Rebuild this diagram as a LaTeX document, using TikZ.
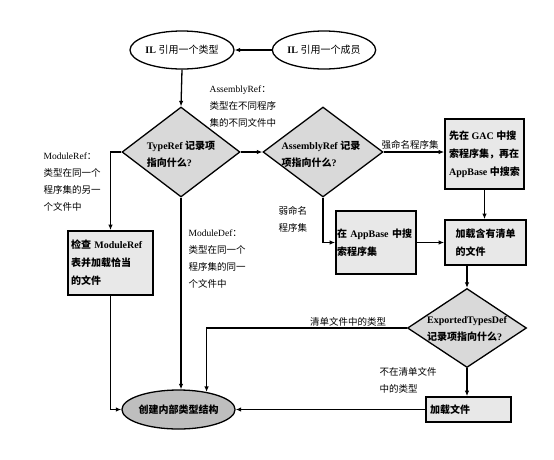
\documentclass[tikz,border=0pt]{standalone}
\usepackage{fontspec}
\setmainfont{Liberation Serif}
\newfontfamily\cjk{Noto Sans CJK SC}
\usetikzlibrary{shapes.geometric,arrows.meta}
\definecolor{boxgray}{HTML}{E8E8E8}
\definecolor{diagray}{HTML}{D9D9D9}
\definecolor{fingray}{HTML}{BEBEBE}
\begin{document}
\begin{tikzpicture}[x=1pt,y=-1pt,
  font=\fontsize{10}{17}\selectfont,
  line width=1.3pt,
  >={Latex[length=5.5pt,width=4.5pt]},
  boxnode/.style={draw, line width=1.7pt, fill=boxgray, rectangle, inner sep=2pt,
    align=left, font=\fontsize{10}{18}\selectfont\bfseries},
  diam/.style={draw, diamond, line width=1.3pt, fill=diagray, inner sep=0pt},
  ell/.style={draw, ellipse, line width=1.3pt, inner sep=0pt},
  lbl/.style={inner sep=0pt, align=left, anchor=west, font=\fontsize{9.5}{17}\selectfont},
  dtext/.style={inner sep=0pt, align=left, font=\fontsize{10}{17}\selectfont\bfseries}
]
\useasboundingbox (0,0) rectangle (554,459);
\fill[white] (0,0) rectangle (554,459);

% ellipses
\node[ell, minimum width=104pt, minimum height=38pt] (il1) at (182,50) {\textbf{IL} {\cjk 引用一个类型}};
\node[ell, minimum width=103pt, minimum height=38pt] (il2) at (324,50) {\textbf{IL} {\cjk 引用一个成员}};
\node[ell, fill=fingray, minimum width=101pt, minimum height=39pt, font=\fontsize{10}{17}\selectfont\bfseries] (fin) at (178.5,409.5) {{\cjk 创建内部类型结构}};

% diamonds
\node[diam, minimum width=118pt, minimum height=90pt] (tr) at (181,152) {};
\node[dtext] (trt) at (181,154.5) {TypeRef {\cjk 记录项}\\{\cjk 指向什么}?};
\node[diam, minimum width=120pt, minimum height=90pt] (ar) at (323,152) {};
\node[dtext] (art) at (321,154.5) {AssemblyRef {\cjk 记录}\\{\cjk 项指向什么}?};
\node[diam, minimum width=119pt, minimum height=79pt] (etd) at (467,328) {};
\node[dtext] (etdt) at (467,329) {ExportedTypesDef\\{\cjk 记录项指向什么}?};

% boxes
\node[boxnode, minimum width=79pt, minimum height=70pt] (gac) at (484.5,154)
  {{\cjk 先在} GAC {\cjk 中搜}\\{\cjk 索程序集，再在}\\AppBase {\cjk 中搜索}};
\node[boxnode, minimum width=81pt, minimum height=45pt] (load) at (485.5,242.5)
  {{\cjk 加载含有清单}\\{\cjk 的文件}};
\node[boxnode, minimum width=80pt, minimum height=63pt, inner sep=1pt, text width=78pt] (app) at (376,242.5)
  {{\cjk 在} AppBase {\cjk 中搜}\\{\cjk 索程序集}};
\node[boxnode, minimum width=85pt, minimum height=64pt, text width=79pt] (mr) at (110.5,263)
  {{\cjk 检查} ModuleRef\\{\cjk 表并加载恰当}\\{\cjk 的文件}};
\node[boxnode, minimum width=85pt, minimum height=25pt, text width=77pt] (lf) at (468.5,409.5)
  {{\cjk 加载文件}};

% labels
\node[lbl] (lasm) at (209,106.5) {AssemblyRef{\cjk ：}\\{\cjk 类型在不同程序}\\{\cjk 集的不同文件中}};
\node[lbl] (lmr) at (43,182.5) {ModuleRef{\cjk ：}\\{\cjk 类型在同一个}\\{\cjk 程序集的另一}\\{\cjk 个文件中}};
\node[lbl] (lmd) at (188,259) {ModuleDef{\cjk ：}\\{\cjk 类型在同一个}\\{\cjk 程序集的同一}\\{\cjk 个文件中}};
\node[lbl, anchor=center] (lstrong) at (410,145) {{\cjk 强命名程序集}};
\node[lbl] (lweak) at (278,219.5) {{\cjk 弱命名}\\{\cjk 程序集}};
\node[lbl, anchor=center] (lman) at (348,322) {{\cjk 清单文件中的类型}};
\node[lbl] (lnot) at (379,380.5) {{\cjk 不在清单文件}\\{\cjk 中的类型}};

% connectors
\draw[->] (il2.west) -- (il1.east);
\draw[->] (il1.south) -- (tr.north);
\draw[->] (tr.east) -- (ar.west);
\draw[->] (ar.east) -- (ar.east -| gac.west);
\draw[->] (gac.south) -- (gac.south |- load.north);
\draw[->] (ar.south) |- (app.west);
\draw[->] (app.east) -- (app.east -| load.west);
\draw[->] (etd.north |- load.south) -- (etd.north);
\draw[->] (etd.west) -| (fin.32);
\draw[->] (etd.south) -- (etd.south |- lf.north);
\draw[->] (lf.west) -- (fin.east);
\draw[->] (tr.south) -- (tr.south |- fin.north);
\draw[->] (tr.west) -| (mr.north);
\draw[->] (mr.south) |- (fin.west);
\end{tikzpicture}
\end{document}
